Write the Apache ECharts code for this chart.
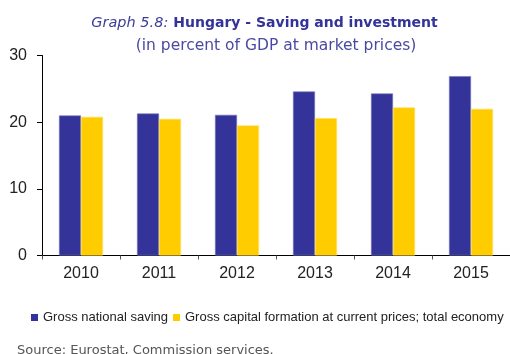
<!DOCTYPE html>
<html>
<head>
<meta charset="utf-8">
<script src="https://cdn.jsdelivr.net/npm/echarts@6/dist/echarts.min.js"></script>
<style>
  html, body { margin: 0; padding: 0; background: #fff; }
  #chart { width: 510px; height: 354px; }
</style>
</head>
<body>
<div id="chart"></div>
<script>
// Hungary: saving and investment, % of GDP at market prices
const years = ['2010', '2011', '2012', '2013', '2014', '2015'];
const grossNationalSaving = [21.0, 21.3, 21.1, 24.6, 24.3, 26.9];
const grossCapitalFormation = [20.8, 20.5, 19.5, 20.6, 22.2, 22.0];
const yTicks = { min: 0, max: 30, interval: 10 };
const seriesNames = ['Gross national saving', 'Gross capital formation at current prices; total economy'];

const chart = echarts.init(document.getElementById('chart'), null, { renderer: 'canvas' });

const titleFont = 'DejaVu Sans';
const legendText = { fontFamily: 'Liberation Sans', fontSize: 13, color: '#222222' };

function legendAt(left, name) {
  return {
    left: left,
    top: 311,
    padding: 0,
    itemWidth: 7,
    itemHeight: 7,
    icon: 'rect',
    itemStyle: { borderWidth: 0 },
    textStyle: legendText,
    data: [name]
  };
}

chart.setOption({
  animation: false,
  backgroundColor: '#ffffff',
  title: [
    {
      left: 259.5,
      top: 9,
      textAlign: 'center',
      text: '{i|Graph 5.8:} {b|Hungary - Saving and investment}',
      textStyle: {
        fontWeight: 'normal',
        rich: {
          i: { fontFamily: titleFont, fontStyle: 'italic', fontWeight: 'normal', fontSize: 14.5, color: '#3d3d99' },
          b: { fontFamily: titleFont, fontWeight: 'bold', fontSize: 14, color: '#333399' }
        }
      }
    },
    {
      left: 271,
      top: 33,
      textAlign: 'center',
      text: '(in percent of GDP at market prices)',
      textStyle: { fontFamily: titleFont, fontWeight: 'normal', fontSize: 15.5, color: '#4a4aa3' }
    },
    {
      left: 12,
      top: 339,
      text: 'Source: Eurostat, Commission services.',
      textStyle: { fontFamily: titleFont, fontWeight: 'normal', fontSize: 13, color: '#555555' }
    }
  ],
  legend: [legendAt(31, seriesNames[0]), legendAt(173, seriesNames[1])],
  grid: { left: 42, right: -3, top: 55.5, bottom: 98.5, containLabel: false },
  xAxis: {
    type: 'category',
    data: years,
    axisLine: { lineStyle: { color: '#000', width: 1 } },
    axisTick: { show: true, length: 4, lineStyle: { color: '#555' } },
    axisLabel: { fontFamily: 'Liberation Sans', fontSize: 16, color: '#222', margin: 10 }
  },
  yAxis: {
    type: 'value',
    min: yTicks.min,
    max: yTicks.max,
    interval: yTicks.interval,
    axisLine: { show: true, lineStyle: { color: '#000', width: 1 } },
    axisTick: { show: true, length: 5, lineStyle: { color: '#000' } },
    splitLine: { show: false },
    axisLabel: { fontFamily: 'Liberation Sans', fontSize: 16, color: '#222', margin: 15 }
  },
  series: [
    {
      name: seriesNames[0],
      type: 'bar',
      data: grossNationalSaving,
      barWidth: 22,
      barGap: '0%',
      itemStyle: { color: '#333399', borderColor: '#7777bb', borderWidth: 0.6 }
    },
    {
      name: seriesNames[1],
      type: 'bar',
      data: grossCapitalFormation,
      barWidth: 22,
      barGap: '0%',
      itemStyle: { color: '#ffcc00', borderColor: '#ffdd55', borderWidth: 0.6 }
    }
  ]
});
</script>
</body>
</html>
